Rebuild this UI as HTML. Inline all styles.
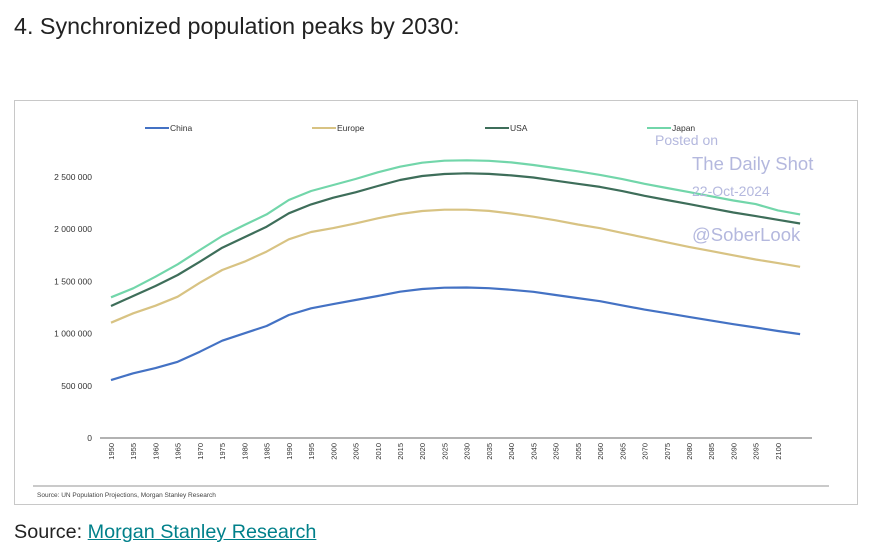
<!DOCTYPE html>
<html><head><meta charset="utf-8"><style>
body{margin:0;background:#fff;width:895px;height:550px;overflow:hidden;font-family:"Liberation Sans",Arial,sans-serif;position:relative}
#title{position:absolute;left:14px;top:13px;font-size:23.3px;color:#222;margin:0;font-weight:normal}
#box{position:absolute;left:14px;top:100px;width:844px;height:405px;border:1px solid #c8c8c8;box-sizing:border-box}
#src{position:absolute;left:14px;top:521px;font-size:19.8px;color:#222}
#src a{color:#00808a;text-decoration:underline}
svg{position:absolute;left:0;top:0}
</style></head><body>
<h1 id="title">4. Synchronized population peaks by 2030:</h1>
<div id="box"></div>
<svg id="chart" width="895" height="550"></svg>
<div id="src">Source: <a>Morgan Stanley Research</a></div>
<script>
const years=[1950,1955,1960,1965,1970,1975,1980,1985,1990,1995,2000,2005,2010,2015,2020,2025,2030,2035,2040,2045,2050,2055,2060,2065,2070,2075,2080,2085,2090,2095,2100,2105];
const china=[555,620,670,730,827,932,1003,1073,1178,1242,1283,1322,1360,1401,1427,1440,1442,1435,1420,1400,1370,1340,1310,1270,1230,1195,1160,1125,1090,1058,1025,995].map(v=>v*1000);
const europe=[1104,1194,1267,1353,1488,1609,1689,1785,1903,1973,2011,2056,2104,2146,2174,2187,2187,2175,2150,2120,2085,2045,2010,1965,1920,1875,1830,1790,1750,1710,1675,1640].map(v=>v*1000);
const usa=[1264,1360,1456,1561,1689,1823,1922,2024,2152,2238,2302,2353,2414,2471,2510,2529,2535,2530,2515,2495,2465,2435,2405,2365,2320,2280,2240,2200,2160,2125,2090,2055].map(v=>v*1000);
const japan=[1348,1434,1545,1664,1801,1935,2040,2142,2280,2366,2423,2481,2545,2599,2637,2656,2660,2655,2640,2615,2585,2555,2520,2480,2435,2395,2355,2315,2275,2240,2180,2142].map(v=>v*1000);
const yTicks=[0,500000,1000000,1500000,2000000,2500000];
const yTickLabels=["0","500 000","1 000 000","1 500 000","2 000 000","2 500 000"];
const NS="http://www.w3.org/2000/svg";
const svg=document.getElementById('chart');
const x=i=>111+i*22.23;
const y=v=>438-v/500000*52.2;
function mk(t,a,p){const e=document.createElementNS(NS,t);for(const k in a)e.setAttribute(k,a[k]);(p||svg).appendChild(e);return e;}
let ax=mk('line',{x1:100,y1:438,x2:812,y2:438,stroke:'#999','stroke-width':1.5});


yTicks.forEach((t,i)=>{const e=mk('text',{x:92,y:y(t)+3,'text-anchor':'end','font-size':8.5,fill:'#333'});e.textContent=yTickLabels[i];

});
years.forEach((yr,i)=>{if(yr>2100)return;const e=mk('text',{transform:`translate(${x(i)+3},443) rotate(-90)`,'text-anchor':'end','font-size':7.5,fill:'#333'});e.textContent=yr;

});
const series=[["China",china,'#4472c4',145],["Europe",europe,'#d8c383',312],["USA",usa,'#3e6e5a',485],["Japan",japan,'#72d6aa',647]];
series.forEach(([n,d,c,lx])=>{
 const p=mk('path',{d:d.map((v,i)=>(i?'L':'M')+x(i).toFixed(1)+','+y(v).toFixed(1)).join(''),fill:'none',stroke:c,'stroke-width':2.2,'stroke-linejoin':'round'});
 
 
 const l=mk('line',{x1:lx,y1:128,x2:lx+24,y2:128,stroke:c,'stroke-width':2});
 
 
 const t=mk('text',{x:lx+25,y:131,'font-size':8.5,fill:'#333'});t.textContent=n;
 
 
});
const wm=[["Posted on",655,145,14],["The Daily Shot",692,170,18.5],["22-Oct-2024",692,196,14],["@SoberLook",692,241,18.5]];
wm.forEach(([s,wx,wy,fs])=>{const e=mk('text',{x:wx,y:wy,'font-size':fs,fill:'#b4b8de'});e.textContent=s;

});
let sl=mk('line',{x1:33,y1:486,x2:829,y2:486,stroke:'#aaa','stroke-width':1.2});


let st=mk('text',{x:37,y:497,'font-size':6.5,fill:'#444'});st.textContent="Source: UN Population Projections, Morgan Stanley Research";


</script>
</body></html>
